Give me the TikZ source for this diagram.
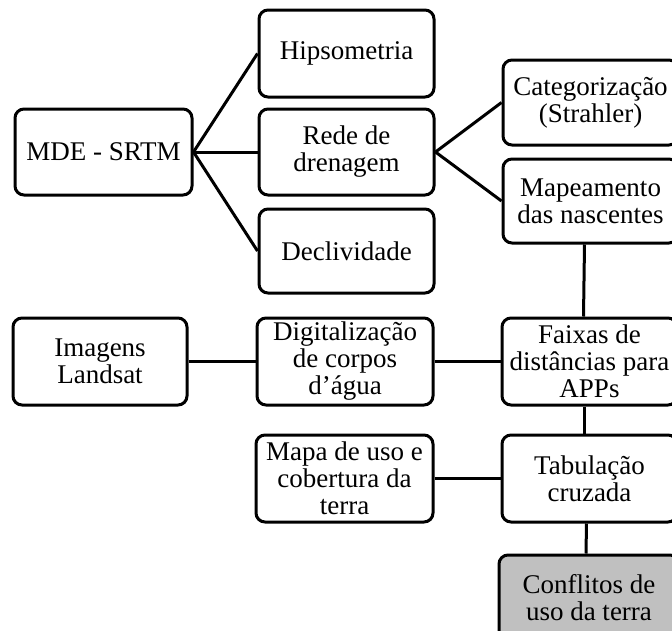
\documentclass[tikz,border=0pt]{standalone}
\usepackage{fontspec}
\setmainfont{Liberation Serif}
\definecolor{boxgray}{RGB}{192,192,192}
\begin{document}
\begin{tikzpicture}[x=1pt,y=-1pt,
  box/.style={draw=black, line width=3pt, rounded corners=9pt, align=center,
    inner sep=0pt, font=\fontsize{27}{27}\selectfont, fill=white},
  link/.style={draw=black, line width=3pt}]
\clip (0,0) rectangle (672,630);
\fill[white] (0,0) rectangle (672,630);
% boxes
\node[box,minimum width=177pt,minimum height=86pt] (mde) at (103.5,152) {MDE - SRTM};
\node[box,minimum width=175pt,minimum height=87pt] (hip) at (346.5,53.5) {Hipsometria};
\node[box,minimum width=175pt,minimum height=86pt] (rede) at (346.5,152) {Rede de\\drenagem};
\node[box,minimum width=175pt,minimum height=84pt] (decl) at (346.5,251) {Declividade};
\node[box,minimum width=175pt,minimum height=85pt] (cat) at (590.5,102.5) {Categorização\\(Strahler)};
\node[box,minimum width=175pt,minimum height=84pt] (map) at (590.5,201) {Mapeamento\\das nascentes};
\node[box,minimum width=174pt,minimum height=87pt] (img) at (100,361.5) {Imagens\\Landsat};
\node[box,minimum width=176pt,minimum height=87pt] (dig) at (345,361.5) {Digitalização\\de corpos\\d’água};
\node[box,minimum width=175pt,minimum height=87pt] (fx) at (589.5,361.5) {Faixas de\\distâncias para\\APPs};
\node[box,minimum width=177pt,minimum height=87pt] (uso) at (344.5,478.5) {Mapa de uso e\\cobertura da\\terra};
\node[box,minimum width=175pt,minimum height=87pt] (tab) at (589.5,478.5) {Tabulação\\cruzada};
\node[box,fill=boxgray,minimum width=180pt,minimum height=85pt] (conf) at (589,597.5) {Conflitos de\\uso da terra};
% connectors
\draw[link] (mde.east) -- (hip.west);
\draw[link] (mde.east) -- (rede.west);
\draw[link] (mde.east) -- (decl.west);
\draw[link] (rede.east) -- (cat.west);
\draw[link] (rede.east) -- (map.west);
\draw[link] ([xshift=-6pt]map.south) -- ([xshift=-6pt]fx.north);
\draw[link] (img.east) -- (dig.west);
\draw[link] (dig.east) -- (fx.west);
\draw[link] ([xshift=-5pt]fx.south) -- ([xshift=-5pt]tab.north);
\draw[link] (uso.east) -- (tab.west);
\draw[link] ([xshift=-3pt]tab.south) -- ([xshift=-3pt]conf.north);
\end{tikzpicture}
\end{document}
